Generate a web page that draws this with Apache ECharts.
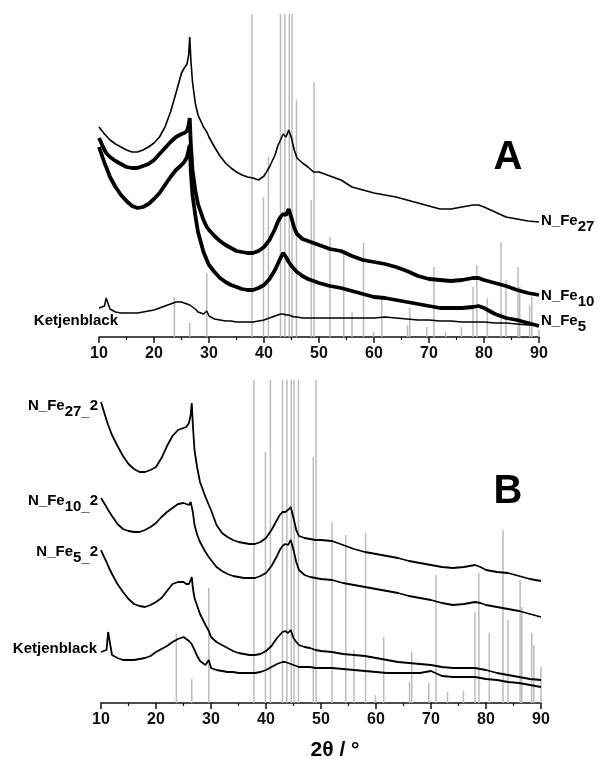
<!DOCTYPE html>
<html><head><meta charset="utf-8">
<script src="https://cdn.jsdelivr.net/npm/echarts@6/dist/echarts.min.js"></script>
<style>html,body{margin:0;padding:0;background:#fff}#c{width:598px;height:759px}</style>
</head><body><div id="c"></div>
<script>
// 2θ grid (degrees) shared by all patterns
const theta = [10,11,11.3,12,13,14,15,16,17,18,19,20,21,22,23,24,25,25.5,26,26.3,26.5,26.7,27,27.5,28,29,29.6,30,31,32,33,34,35,36,37,38,39,40,41,42,42.5,43,43.5,44,44.5,45,45.5,46,47,48,49,50,52,54,56,58,60,62,64,66,68,70,72,74,76,78,79,80,82,84,86,88,90];

// Panel A intensities (offset, a.u.)
const nFe27 = [210,203,201,197,193,190,187,185,185,187,190,194,200,210,225,244,264,269,273,282,300,277,255,234,222,210,205,200,190,181,174,169,165,162,160,159,157,161,170,182,191,197,203,200,207,199,187,179,174,170,165,165,161,157,150,147,144,142,140,137,134,131,128,128,130,132,132,130,125,120,118,116,115];
const nFe10 = [199,187,184,180,176,173,170,169,169,171,173,177,183,189,195,200,203,204,206,212,219,192,167,147,133,117,110,107,101,96,92,89,86,85,84,84,86,90,97,108,115,120,123,122,128,119,109,103,98,96,94,92,88,86,81,77,75,73,70,66,61,58,57,56,57,59,59,57,54,51,47,44,42];
const nFe5 = [190,174,170,160,150,142,136,131,129,130,133,138,144,152,160,167,172,175,180,187,192,165,142,122,105,85,77,72,65,59,55,52,50,48,47,47,49,52,58,67,73,79,84,80,75,71,68,65,61,58,56,54,51,49,46,43,40,39,37,35,33,31,29,29,29,30,31,29,23,19,17,14,11];
const ketA = [29,31,39,28,25,24,24,24,24,25,26,27,29,31,33,35,35,34,33,32,32,31,30,28,25,23,26,21,18,17,16,16,15,15,15,15,16,17,19,21,22,23,23,22,22,21,20,20,19,19,19,19,19,19,19,19,19,20,19,18,17,17,16,16,15,15,15,15,14,14,13,12,12];

// Panel B intensities (offset, a.u.)
const nFe27b = [301,283,278,268,257,247,239,234,231,231,233,236,245,257,267,273,275,276,280,288,300,278,253,235,221,206,198,193,178,170,166,163,161,160,159,159,161,165,173,183,188,191,191,193,196,185,173,167,165,164,163,163,162,158,154,151,149,147,145,142,140,138,136,135,136,138,136,133,131,130,127,124,122];
const nFe10b = [205,196,193,187,179,174,172,171,171,173,176,180,186,191,195,199,200,199,198,201,203,191,178,168,161,151,146,143,136,132,129,127,126,125,125,125,127,130,137,147,153,157,159,158,163,153,141,133,128,126,125,124,123,120,118,116,114,112,110,107,105,103,100,98,99,101,100,98,96,94,92,89,86];
const nFe5b = [153,141,137,129,119,111,104,99,97,96,98,101,105,112,119,121,121,119,119,123,126,115,105,97,89,78,72,66,61,58,55,52,50,49,48,48,49,52,57,65,68,71,72,70,73,65,61,58,56,55,53,52,51,49,48,47,45,43,41,40,39,38,36,35,35,35,34,33,30,28,26,24,23];
const ketB = [51,53,71,48,45,43,43,43,44,45,47,51,54,57,61,64,66,64,62,60,59,57,53,47,42,38,43,35,33,32,31,31,30,30,30,30,31,33,36,39,40,41,41,40,39,38,37,36,36,36,35,35,35,34,33,32,31,30,30,30,30,32,27,26,26,26,25,24,23,21,20,18,16];

// Reference pattern sticks (2θ positions and heights per panel)
const refPos = [23.7,26.5,29.6,37.8,39.9,40.8,43.0,43.8,44.6,45.1,45.9,48.6,49.1,52.0,54.5,56.0,58.1,59.9,61.4,66.1,66.5,69.6,70.9,73.0,75.9,78.0,78.7,80.6,83.1,84.0,86.2,86.5,88.3,88.7,90.0];
const refA = [40,14,64,323,140,180,323,323,323,323,237,137,255,100,87,25,94,5,37,12,29,10,70,5,10,50,72,39,95,57,70,50,32,40,7];
const refB = [70,24,115,323,251,323,323,323,323,323,323,246,323,181,168,53,170,8,66,21,51,20,128,11,12,91,130,70,173,83,123,96,70,58,36];

const xTicks = [10,20,30,40,50,60,70,80,90];

const FONT = '"Liberation Sans", Arial, Helvetica, sans-serif';
const pairs = arr => theta.map((t, i) => [t, arr[i]]);

function xAxis(gi) {
  return {
    type: 'value', gridIndex: gi, min: xTicks[0], max: xTicks[xTicks.length - 1], interval: 10,
    axisLine: { onZero: false, lineStyle: { color: '#111', width: 1.5 } },
    axisTick: { show: true, inside: false, length: 6, lineStyle: { color: '#111', width: 1.5 } },
    minorTick: { show: true, splitNumber: 2, length: 3, lineStyle: { color: '#111', width: 1.2 } },
    splitLine: { show: false },
    axisLabel: { color: '#111', fontWeight: 'bold', fontSize: 16, fontFamily: FONT, margin: 9 }
  };
}
function yAxis(gi) {
  return { type: 'value', gridIndex: gi, min: 0, max: 323, show: false };
}
function sticks(gi, heights) {
  return {
    type: 'custom', xAxisIndex: gi, yAxisIndex: gi, z: 1, silent: true,
    data: refPos.map((p, i) => [p, heights[i]]),
    renderItem: (params, api) => {
      const p0 = api.coord([api.value(0), 0]);
      const p1 = api.coord([api.value(0), api.value(1)]);
      return { type: 'line', shape: { x1: p0[0], y1: p0[1], x2: p1[0], y2: p1[1] },
               style: { stroke: '#bcbcbc', lineWidth: 1.5 } };
    }
  };
}
function curve(gi, arr, w) {
  return {
    type: 'line', xAxisIndex: gi, yAxisIndex: gi, z: 3, data: pairs(arr),
    showSymbol: false, symbol: 'none', smooth: false,
    lineStyle: { color: '#000', width: w }
  };
}
const rich = {
  n: { fontSize: 15, fontWeight: 'bold', fontFamily: FONT, fill: '#000' },
  s: { fontSize: 15, fontWeight: 'bold', fontFamily: FONT, fill: '#000', padding: [12, 0, 0, 0] }
};
function label(x, y, text, align) {
  return { type: 'text', z: 10, style: { x: x, y: y, text: text, rich: rich, textAlign: align,
    textVerticalAlign: 'middle', font: 'bold 15px ' + FONT, fill: '#000' } };
}

const chart = echarts.init(document.getElementById('c'), null, { renderer: 'canvas' });
chart.setOption({
  animation: false,
  backgroundColor: '#fff',
  grid: [
    { left: 99, width: 440, top: 14, height: 323 },
    { left: 101, width: 440, top: 380, height: 323 }
  ],
  xAxis: [xAxis(0), xAxis(1)],
  yAxis: [yAxis(0), yAxis(1)],
  series: [
    sticks(0, refA), sticks(1, refB),
    curve(0, nFe27, 1.6), curve(0, nFe10, 3.8), curve(0, nFe5, 3.8), curve(0, ketA, 1.5),
    curve(1, nFe27b, 1.8), curve(1, nFe10b, 1.8), curve(1, nFe5b, 1.8), curve(1, ketB, 1.8)
  ],
  graphic: [
    label(541, 221, '{n|N_Fe}{s|27}', 'left'),
    label(541, 296, '{n|N_Fe}{s|10}', 'left'),
    label(541, 321, '{n|N_Fe}{s|5}', 'left'),
    label(118, 321, '{n|Ketjenblack}', 'right'),
    label(98, 406, '{n|N_Fe}{s|27_}{n|2}', 'right'),
    label(98, 501, '{n|N_Fe}{s|10_}{n|2}', 'right'),
    label(98, 552, '{n|N_Fe}{s|5_}{n|2}', 'right'),
    label(97, 649, '{n|Ketjenblack}', 'right'),
    { type: 'text', z: 10, style: { x: 508, y: 158, text: 'A', textAlign: 'center', textVerticalAlign: 'middle',
      font: 'bold 40px ' + FONT, fill: '#000' } },
    { type: 'text', z: 10, style: { x: 508, y: 492, text: 'B', textAlign: 'center', textVerticalAlign: 'middle',
      font: 'bold 40px ' + FONT, fill: '#000' } },
    { type: 'text', z: 10, style: { x: 335, y: 750, text: '2θ / °', textAlign: 'center', textVerticalAlign: 'middle',
      font: 'bold 21px ' + FONT, fill: '#000' } }
  ]
});
</script></body></html>
